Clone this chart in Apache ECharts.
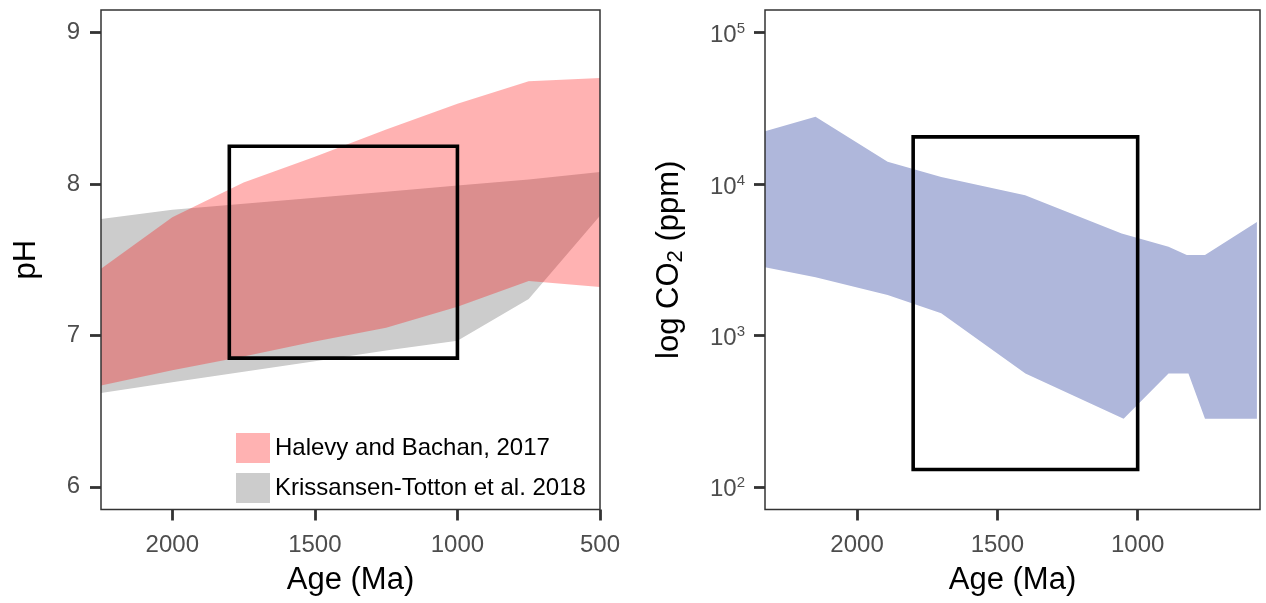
<!DOCTYPE html>
<html>
<head>
<meta charset="utf-8">
<script src="https://cdn.jsdelivr.net/npm/echarts@6/dist/echarts.min.js"></script>
<style>
html, body { margin: 0; padding: 0; background: #fff; }
#chart { width: 1266px; height: 603px; }
</style>
</head>
<body>
<div id="chart"></div>
<script>
// Ocean pH reconstructions (ages in Ma)
const phAges = [2250, 2000, 1750, 1500, 1250, 1000, 750, 500];
const halevyUpper = [7.44, 7.78, 8.01, 8.18, 8.36, 8.53, 8.68, 8.70];
const halevyLower = [6.67, 6.77, 6.86, 6.96, 7.05, 7.19, 7.36, 7.32];
const kttUpper = [7.77, 7.83, 7.87, 7.91, 7.95, 7.99, 8.03, 8.08];
const kttLower = [6.62, 6.69, 6.76, 6.83, 6.90, 6.965, 7.24, 7.79];

// Atmospheric CO2 envelope (ppm)
const co2UpperAges = [2328, 2148, 1891, 1700, 1401, 1057, 890, 825, 760, 575];
const co2Upper = [22340, 27860, 14030, 11120, 8430, 4720, 3850, 3400, 3400, 5620];
const co2LowerAges = [2328, 2148, 1891, 1700, 1400, 1050, 890, 819, 760, 575];
const co2Lower = [2820, 2420, 1850, 1400, 560, 282, 560, 560, 282, 282];

// Highlighted window: 1800-1000 Ma
const boxAges = [1800, 1000];
const boxPh = [6.85, 8.25];
const boxCo2 = [130, 20500];

// Tick labels
const phAgeTicks = [2000, 1500, 1000, 500];
const phTicks = [6, 7, 8, 9];
const co2AgeTicks = [2000, 1500, 1000];
const co2Exponents = [2, 3, 4, 5];

const legendNames = ['Halevy and Bachan, 2017', 'Krissansen-Totton et al. 2018'];

const FONT = '"Liberation Sans", Arial, Helvetica, sans-serif';
const TICK_COLOR = '#4d4d4d';
const identity = v => v;
const plain = v => String(v);

function ribbon(upAges, up, loAges, lo, tf) {
  return function (params, api) {
    if (params.dataIndex !== 0) return null;
    const pts = [];
    for (let i = 0; i < upAges.length; i++) pts.push(api.coord([upAges[i], tf(up[i])]));
    for (let i = loAges.length - 1; i >= 0; i--) pts.push(api.coord([loAges[i], tf(lo[i])]));
    return { type: 'polygon', shape: { points: pts }, style: { fill: api.visual('color') } };
  };
}

function boxLine(ages, vals, tf) {
  return [
    [ages[0], tf(vals[0])], [ages[0], tf(vals[1])], [ages[1], tf(vals[1])],
    [ages[1], tf(vals[0])], [ages[0], tf(vals[0])]
  ];
}

const axisTick = { show: true, length: 11, lineStyle: { color: '#333', width: 2.8 } };
const tickLabel = { color: TICK_COLOR, fontSize: 24, fontFamily: FONT, formatter: plain };
const titleStyle = { color: '#000', fontSize: 31, fontFamily: FONT };

const chart = echarts.init(document.getElementById('chart'), null, { renderer: 'canvas' });

chart.setOption({
  animation: false,
  backgroundColor: '#fff',
  textStyle: { fontFamily: FONT },
  grid: [
    { left: 101, top: 10, width: 499, height: 499.5, show: true, z: 10,
      borderColor: '#333', borderWidth: 1.5, backgroundColor: 'transparent' },
    { left: 765, top: 10, width: 495, height: 499.5, show: true, z: 10,
      borderColor: '#333', borderWidth: 1.5, backgroundColor: 'transparent' }
  ],
  xAxis: [
    { type: 'value', gridIndex: 0, inverse: true, min: 500, max: 2250,
      name: 'Age (Ma)', nameLocation: 'middle', nameGap: 55, nameTextStyle: titleStyle,
      axisLine: { show: false }, splitLine: { show: false },
      axisTick: Object.assign({ customValues: phAgeTicks }, axisTick),
      axisLabel: Object.assign({ customValues: phAgeTicks, margin: 24 }, tickLabel) },
    { type: 'value', gridIndex: 1, inverse: true, min: 564, max: 2328,
      name: 'Age (Ma)', nameLocation: 'middle', nameGap: 55, nameTextStyle: titleStyle,
      axisLine: { show: false }, splitLine: { show: false },
      axisTick: Object.assign({ customValues: co2AgeTicks }, axisTick),
      axisLabel: Object.assign({ customValues: co2AgeTicks, margin: 24 }, tickLabel) }
  ],
  yAxis: [
    { type: 'value', gridIndex: 0, min: 5.85, max: 9.15,
      name: 'pH', nameLocation: 'middle', nameGap: 59, nameTextStyle: titleStyle,
      axisLine: { show: false }, splitLine: { show: false },
      axisTick: Object.assign({ customValues: phTicks }, axisTick),
      axisLabel: Object.assign({ customValues: phTicks, margin: 21 }, tickLabel) },
    { type: 'value', gridIndex: 1, min: 1.85, max: 5.15,
      name: '{a|log CO}{s|2}{a| (ppm)}', nameLocation: 'middle', nameGap: 78,
      nameTextStyle: Object.assign({
        rich: {
          a: { fontSize: 31, lineHeight: 36, color: '#000', fontFamily: FONT },
          s: { fontSize: 22, lineHeight: 22, color: '#000', fontFamily: FONT, verticalAlign: 'bottom' }
        }
      }, titleStyle),
      axisLine: { show: false }, splitLine: { show: false },
      axisTick: Object.assign({ customValues: co2Exponents }, axisTick),
      axisLabel: {
        customValues: co2Exponents, margin: 20, padding: [6, 0, 0, 0],
        formatter: v => '{b|10}{s|' + v + '}',
        rich: {
          b: { fontSize: 24, lineHeight: 28, color: TICK_COLOR, fontFamily: FONT },
          s: { fontSize: 15, lineHeight: 17, color: TICK_COLOR, fontFamily: FONT, verticalAlign: 'top' }
        }
      } }
  ],
  legend: {
    data: legendNames, orient: 'vertical', left: 236, top: 433, padding: 0,
    itemWidth: 34, itemHeight: 30, itemGap: 10, icon: 'rect', selectedMode: false,
    textStyle: { fontSize: 24, color: '#000', fontFamily: FONT }
  },
  series: [
    { type: 'custom', name: legendNames[1], xAxisIndex: 0, yAxisIndex: 0, z: 2,
      itemStyle: { color: '#cccccc' }, clip: true,
      data: [[phAges[0], kttUpper[0]]],
      renderItem: ribbon(phAges, kttUpper, phAges, kttLower, identity) },
    { type: 'custom', name: legendNames[0], xAxisIndex: 0, yAxisIndex: 0, z: 3,
      itemStyle: { color: 'rgba(255,0,0,0.3)' }, clip: true,
      data: [[phAges[0], halevyUpper[0]]],
      renderItem: ribbon(phAges, halevyUpper, phAges, halevyLower, identity) },
    { type: 'custom', name: 'CO2', xAxisIndex: 1, yAxisIndex: 1, z: 2,
      itemStyle: { color: '#afb7db' }, clip: true,
      data: [[co2UpperAges[0], Math.log10(co2Upper[0])]],
      renderItem: ribbon(co2UpperAges, co2Upper, co2LowerAges, co2Lower, Math.log10) },
    { type: 'line', xAxisIndex: 0, yAxisIndex: 0, z: 5, symbol: 'none', silent: true,
      lineStyle: { color: '#000', width: 3.6, join: 'miter', cap: 'square' },
      data: boxLine(boxAges, boxPh, identity) },
    { type: 'line', xAxisIndex: 1, yAxisIndex: 1, z: 5, symbol: 'none', silent: true,
      lineStyle: { color: '#000', width: 3.6, join: 'miter', cap: 'square' },
      data: boxLine(boxAges, boxCo2, Math.log10) }
  ]
});
</script>
</body>
</html>
